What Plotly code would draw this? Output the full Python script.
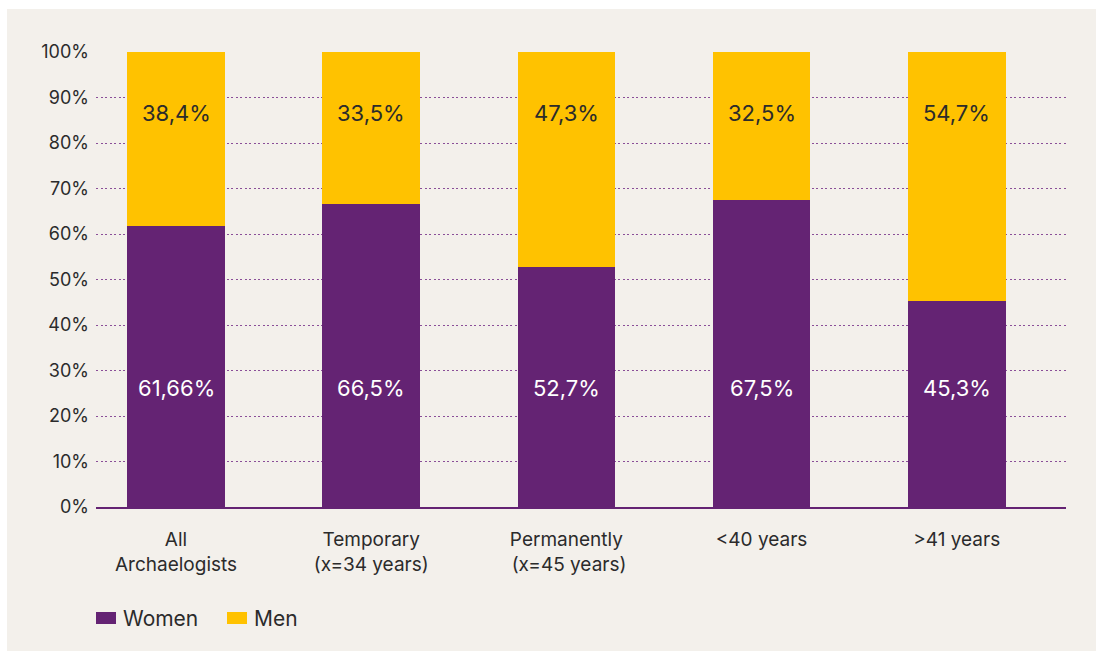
import plotly.graph_objects as go

categories = ["All<br>Archaelogists", "Temporary<br>(x=34 years)", "Permanently<br> (x=45 years)", "<40 years", ">41 years"]
women = [61.66, 66.5, 52.7, 67.5, 45.3]
men = [38.4, 33.5, 47.3, 32.5, 54.7]
women_labels = ["61,66%", "66,5%", "52,7%", "67,5%", "45,3%"]
men_labels = ["38,4%", "33,5%", "47,3%", "32,5%", "54,7%"]
y_ticks = [0, 10, 20, 30, 40, 50, 60, 70, 80, 90, 100]
y_ticktext = [f"{v}%" for v in y_ticks]
series_names = ["Women", "Men"]

PURPLE = "#642373"
GRID = "#8a4f98"
YELLOW = "#FFC200"
BG = "#F3F0EB"
TEXT = "#2b2b2b"
FONT = "Inter"

xs = list(range(len(categories)))

fig = go.Figure()
fig.add_trace(go.Bar(x=xs, y=women, name=series_names[0], marker=dict(color=PURPLE, line=dict(width=0)), width=0.5, showlegend=False))
fig.add_trace(go.Bar(x=xs, y=men, name=series_names[1], marker=dict(color=YELLOW, line=dict(width=0)), width=0.5, showlegend=False))

annotations = []
for i in xs:
    annotations.append(dict(x=i, y=26.1, xref="x", yref="y", text=women_labels[i], showarrow=False,
                            font=dict(family=FONT, size=22, color="white")))
    annotations.append(dict(x=i, y=86.6, xref="x", yref="y", text=men_labels[i], showarrow=False,
                            font=dict(family=FONT, size=22, color=TEXT)))

W, H = 1096, 651
L, R, T, B = 96, 30, 52, 144
pw, ph = W - L - R, H - T - B

def px_x(p):
    return (p - L) / pw

def px_y(p):
    return (H - B - p) / ph

shapes = [
    dict(type="rect", xref="paper", yref="paper", x0=px_x(0), x1=px_x(W), y0=px_y(9), y1=px_y(0),
         fillcolor="white", line=dict(width=0), layer="above"),
    dict(type="rect", xref="paper", yref="paper", x0=px_x(0), x1=px_x(7), y0=px_y(H), y1=px_y(0),
         fillcolor="white", line=dict(width=0), layer="above"),
]

# custom legend
legend_items = [(series_names[0], PURPLE, 96), (series_names[1], YELLOW, 227)]
for name, col, x0 in legend_items:
    shapes.append(dict(type="rect", xref="paper", yref="paper", x0=px_x(x0), x1=px_x(x0 + 20),
                       y0=px_y(624), y1=px_y(612), fillcolor=col, line=dict(width=0)))
    annotations.append(dict(x=px_x(x0 + 25), y=px_y(618), xref="paper", yref="paper", text=name,
                            showarrow=False, xanchor="left", yanchor="middle",
                            font=dict(family=FONT, size=21, color=TEXT)))

fig.update_layout(
    width=W, height=H,
    margin=dict(l=L, r=R, t=T, b=B, pad=0),
    barmode="stack",
    paper_bgcolor=BG,
    plot_bgcolor="rgba(0,0,0,0)",
    font=dict(family=FONT, size=17, color=TEXT),
    showlegend=False,
    annotations=annotations,
    shapes=shapes,
)
fig.update_xaxes(
    range=[-0.41, 4.56], tickmode="array", tickvals=xs, ticktext=categories,
    showgrid=False, showline=True, linecolor=PURPLE, linewidth=2, ticks="",
    tickfont=dict(family=FONT, size=19, color=TEXT), ticklabelstandoff=14,
    zeroline=False,
)
fig.update_yaxes(
    range=[0, 100], tickmode="array", tickvals=y_ticks, ticktext=y_ticktext,
    showgrid=True, gridcolor=GRID, griddash="2px,2.5px", gridwidth=1.2,
    zeroline=False, showline=False, ticks="",
    tickfont=dict(family=FONT, size=18, color=TEXT), ticklabelstandoff=6,
)

fig.write_html("out.html", config={"displayModeBar": False},
               post_script="document.body.style.margin='0';document.body.style.overflow='hidden';")
